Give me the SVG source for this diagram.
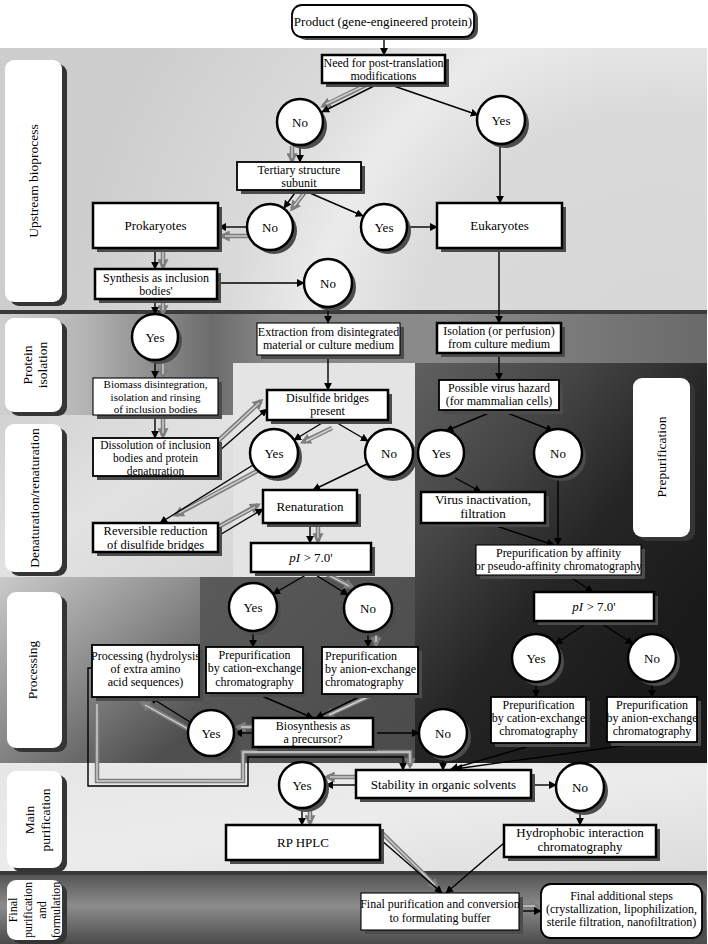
<svg xmlns="http://www.w3.org/2000/svg" width="708" height="944" viewBox="0 0 708 944">
<defs>
<radialGradient id="gUp" gradientUnits="userSpaceOnUse" cx="660" cy="360" r="600">
<stop offset="0" stop-color="#d6d6d6"/><stop offset="0.42" stop-color="#dadada"/><stop offset="0.58" stop-color="#ebebeb"/><stop offset="0.72" stop-color="#dadada"/><stop offset="1" stop-color="#cdcdcd"/>
</radialGradient>
<linearGradient id="gProt" gradientUnits="userSpaceOnUse" x1="0" y1="0" x2="707" y2="0">
<stop offset="0" stop-color="#d0d0d0"/><stop offset="0.12" stop-color="#b4b4b4"/><stop offset="0.3" stop-color="#6c6c6c"/><stop offset="0.38" stop-color="#868686"/><stop offset="0.62" stop-color="#8a8a8a"/><stop offset="1" stop-color="#6a6a6a"/>
</linearGradient>
<linearGradient id="gDen" x1="0" y1="0" x2="1" y2="1">
<stop offset="0" stop-color="#d2d2d2"/><stop offset="0.5" stop-color="#e2e2e2"/><stop offset="1" stop-color="#d6d6d6"/>
</linearGradient>
<linearGradient id="gDark" gradientUnits="userSpaceOnUse" x1="415" y1="363" x2="707" y2="600">
<stop offset="0" stop-color="#606060"/><stop offset="0.35" stop-color="#444"/><stop offset="0.65" stop-color="#252525"/><stop offset="1" stop-color="#1a1a1a"/>
</linearGradient>
<linearGradient id="gProcL" gradientUnits="userSpaceOnUse" x1="0" y1="577" x2="150" y2="765">
<stop offset="0" stop-color="#cacaca"/><stop offset="0.5" stop-color="#8e8e8e"/><stop offset="1" stop-color="#4e4e4e"/>
</linearGradient>
<linearGradient id="gProcC" gradientUnits="userSpaceOnUse" x1="200" y1="577" x2="415" y2="765">
<stop offset="0" stop-color="#5a5a5a"/><stop offset="1" stop-color="#4a4a4a"/>
</linearGradient>
<linearGradient id="gMain" x1="0" y1="0" x2="1" y2="1">
<stop offset="0" stop-color="#e6e6e6"/><stop offset="0.5" stop-color="#ececec"/><stop offset="1" stop-color="#dcdcdc"/>
</linearGradient>
<linearGradient id="gFin" x1="0" y1="0" x2="0" y2="1">
<stop offset="0" stop-color="#555"/><stop offset="0.45" stop-color="#8c8c8c"/><stop offset="1" stop-color="#4a4a4a"/>
</linearGradient>
<marker id="ah" viewBox="0 0 10 10" refX="9" refY="5" markerWidth="8" markerHeight="8" markerUnits="userSpaceOnUse" orient="auto"><path d="M0,0 L10,5 L0,10 z" fill="#000"/></marker>
<marker id="gh" viewBox="0 0 10 10" refX="7" refY="5" markerWidth="11" markerHeight="11" markerUnits="userSpaceOnUse" orient="auto"><path d="M0,0 L10,5 L0,10 z" fill="#7d7d7d"/></marker>
</defs>
<style>
text{font-family:"Liberation Serif","Times New Roman",serif;fill:#000}
.t{font-size:12px;text-anchor:middle}
.tl{font-size:12px;text-anchor:start}
.m{font-size:13px;text-anchor:middle}
.lb{font-size:13.5px;text-anchor:middle}
.bx{fill:#fff;stroke:#000;stroke-width:2.5}
.bm{fill:#fff;stroke:#000;stroke-width:1.8}
.bt{fill:#fff;stroke:#000;stroke-width:1.1}
.sh{fill:#4c4c4c}
.ci{fill:#fff;stroke:#000;stroke-width:2.5}
.lbl{fill:#fff}
.lsh{fill:#353535}
.c{fill:none;stroke:#000;stroke-width:1.4;marker-end:url(#ah)}
.go{fill:none;stroke:#7d7d7d;stroke-width:4.5;marker-end:url(#gh)}
.gi{fill:none;stroke:#d2d2d2;stroke-width:1.4}
</style>

<g id="background">
<rect x="0" y="0" width="708" height="944" fill="#fff"/>
<rect x="0" y="48" width="707" height="262" fill="url(#gUp)"/>
<rect x="0" y="310" width="707" height="4" fill="#3a3a3a"/>
<rect x="0" y="314" width="707" height="49" fill="url(#gProt)"/>
<rect x="0" y="363" width="233" height="52" fill="url(#gProt)"/>
<rect x="0" y="415" width="233" height="162" fill="url(#gDen)"/>
<rect x="233" y="363" width="182" height="214" fill="#e4e4e4"/>
<rect x="415" y="363" width="292" height="402" fill="url(#gDark)"/>
<rect x="0" y="577" width="200" height="188" fill="url(#gProcL)"/>
<rect x="200" y="577" width="215" height="188" fill="url(#gProcC)"/>
<rect x="0" y="763" width="707" height="3" fill="#e8e8e8"/>
<rect x="0" y="766" width="707" height="105" fill="url(#gMain)"/>
<rect x="0" y="871" width="707" height="4" fill="#3a3a3a"/>
<rect x="0" y="875" width="707" height="69" fill="url(#gFin)"/>
</g>

<g id="lane-labels">
<g id="lane-upstream">
<rect class="lsh" x="10" y="64" width="57" height="242" rx="9"/>
<rect class="lbl" x="5" y="60" width="57" height="242" rx="9"/>
<text class="lb" transform="translate(33,181) rotate(-90)" y="4.6">Upstream bioprocess</text>
</g>
<g id="lane-isolation">
<rect class="lsh" x="10" y="322" width="57" height="94" rx="9"/>
<rect class="lbl" x="5" y="318" width="57" height="94" rx="9"/>
<text class="lb" transform="translate(34,365) rotate(-90)"><tspan x="0" y="-2.5">Protein</tspan><tspan x="0" y="12.5">isolation</tspan></text>
</g>
<g id="lane-denaturation">
<rect class="lsh" x="10" y="428" width="57" height="148" rx="9"/>
<rect class="lbl" x="5" y="424" width="57" height="148" rx="9"/>
<text class="lb" transform="translate(34,498) rotate(-90)" y="4.5">Denaturation/renaturation</text>
</g>
<g id="lane-processing">
<rect class="lsh" x="12" y="596" width="55" height="156" rx="9"/>
<rect class="lbl" x="7" y="592" width="55" height="156" rx="9"/>
<text class="lb" transform="translate(34,670) rotate(-90)" y="3">Processing</text>
</g>
<g id="lane-main">
<rect class="lsh" x="12" y="775" width="55" height="97" rx="9"/>
<rect class="lbl" x="7" y="771" width="55" height="97" rx="9"/>
<text class="lb" transform="translate(37,820) rotate(-90)"><tspan x="0" y="-3.5">Main</tspan><tspan x="0" y="13">purification</tspan></text>
</g>
<g id="lane-final">
<rect class="lsh" x="12" y="884" width="55" height="60" rx="9"/>
<rect class="lbl" x="7" y="880" width="55" height="60" rx="9"/>
<text transform="translate(34,910) rotate(-90)" style="font-size:12px;text-anchor:middle"><tspan x="0" y="-16.9">Final</tspan><tspan x="0" y="-2.4">purification</tspan><tspan x="0" y="12.1">and</tspan><tspan x="0" y="25.6">formulation</tspan></text>
</g>
<g id="lane-prepurification">
<rect class="lsh" x="638" y="382" width="57" height="159" rx="9"/>
<rect class="lbl" x="633" y="378" width="57" height="159" rx="9"/>
<text class="lb" transform="translate(661,457) rotate(-90)" y="4.5">Prepurification</text>
</g>
</g>

<g id="connectors">
<g id="gray-path">
<path class="go" d="M372,82 L323,106"/><path class="gi" d="M372,82 L326,104"/>
<path class="go" d="M292,146 V161"/><path class="gi" d="M292,146 V158"/>
<path class="go" d="M305,192 L292,209"/><path class="gi" d="M305,192 L294,206"/>
<path class="go" d="M250,236 H222"/><path class="gi" d="M250,236 H225"/>
<path class="go" d="M163,249 V267"/><path class="gi" d="M163,249 V264"/>
<path class="go" d="M163,300 V313"/><path class="gi" d="M163,300 V310"/>
<path class="go" d="M163,361 V377"/><path class="gi" d="M163,361 V374"/>
<path class="go" d="M163,415 V436"/><path class="gi" d="M163,415 V433"/>
<path class="go" d="M218,441 L261,401"/><path class="gi" d="M218,441 L259,403"/>
<path class="go" d="M332,428 L303,442"/><path class="gi" d="M332,428 L306,441"/>
<path class="go" d="M259,470 L176,515"/><path class="gi" d="M259,470 L179,513"/>
<path class="go" d="M218,527 L258,505"/><path class="gi" d="M218,527 L255,507"/>
<path class="go" d="M318,524 V541"/><path class="gi" d="M318,524 V538"/>
<path class="go" d="M317,569 L352,587"/><path class="gi" d="M317,569 L349,586"/>
<path class="go" d="M376,633 V645"/><path class="gi" d="M376,633 V642"/>
<path class="go" d="M372,695 L326,716"/><path class="gi" d="M372,695 L329,715"/>
<path class="go" d="M252,727 H238"/><path class="gi" d="M252,727 H241"/>
<path class="go" d="M190,730 L142,703"/><path class="gi" d="M190,730 L145,705"/>
<path class="go" d="M97,704 V781 H243 V752 H410 V766"/><path class="gi" d="M97,704 V781 H243 V752 H410 V763"/>
<path class="go" d="M355,777 H327"/><path class="gi" d="M355,777 H330"/>
<path class="go" d="M310,810 V823"/><path class="gi" d="M310,810 V820"/>
<path class="go" d="M381,832 L437,887"/><path class="gi" d="M381,832 L435,885"/>
<path class="go" d="M520,906 H538"/><path class="gi" d="M520,906 H535"/>
</g>
<g id="black-path">
<path class="c" d="M384,38 V55"/>
<path class="c" d="M378,84 L322,112"/>
<path class="c" d="M388,84 L478,115"/>
<path class="c" d="M300,145 V162"/>
<path class="c" d="M297,190 L284,208"/>
<path class="c" d="M303,190 L363,216"/>
<path class="c" d="M247,227 H219"/>
<path class="c" d="M408,227 H437"/>
<path class="c" d="M500,144 V203"/>
<path class="c" d="M155,248 V269"/>
<path class="c" d="M217,283 H304"/>
<path class="c" d="M155,299 V314"/>
<path class="c" d="M328,307 V323"/>
<path class="c" d="M499,248 V323"/>
<path class="c" d="M155,360 V378"/>
<path class="c" d="M328,355 V390"/>
<path class="c" d="M155,415 V438"/>
<path class="c" d="M499,353 V380"/>
<path class="c" d="M218,452 L267,409"/>
<path class="c" d="M327,420 L294,440"/>
<path class="c" d="M332,420 L368,441"/>
<path class="c" d="M253,465 L160,523"/>
<path class="c" d="M218,536 L263,509"/>
<path class="c" d="M367,464 L313,490"/>
<path class="c" d="M310,523 V543"/>
<path class="c" d="M496,410 L446,431"/>
<path class="c" d="M500,410 L553,431"/>
<path class="c" d="M450,475 L481,492"/>
<path class="c" d="M558,477 V545"/>
<path class="c" d="M487,523 L554,545"/>
<path class="c" d="M567,575 L593,592"/>
<path class="c" d="M590,621 L555,644"/>
<path class="c" d="M598,621 L633,644"/>
<path class="c" d="M536,682 V697"/>
<path class="c" d="M652,682 V697"/>
<path class="c" d="M311,572 L273,594"/>
<path class="c" d="M311,572 L348,595"/>
<path class="c" d="M253,631 V647"/>
<path class="c" d="M368,632 V647"/>
<path class="c" d="M255,693 L313,718"/>
<path class="c" d="M365,694 L316,718"/>
<path class="c" d="M253,733 H235"/>
<path class="c" d="M373,733 H419"/>
<path class="c" d="M190,722 L150,697"/>
<path class="c" d="M92,668 H88 V786 H248 V757 H403 V770"/>
<path class="c" d="M443,757 V770"/>
<path class="c" d="M540,743 L451,769"/>
<path class="c" d="M650,742 L455,769"/>
<path class="c" d="M356,785 H326"/>
<path class="c" d="M531,785 H556"/>
<path class="c" d="M302,808 V825"/>
<path class="c" d="M580,811 V825"/>
<path class="c" d="M381,840 L442,893"/>
<path class="c" d="M504,843 L446,893"/>
<path class="c" d="M519,911 H541"/>
</g>
</g>

<g id="n-product"><rect class="sh" x="296" y="8" width="182" height="32" rx="10"/><rect class="bm" x="292" y="5" width="182" height="32" rx="10"/><text class="m" x="383" y="25.5">Product (gene-engineered protein)</text></g>
<g id="n-need"><rect class="sh" x="326" y="59" width="123" height="28"/><rect class="bx" x="322" y="55" width="123" height="28"/><text class="t" x="383.5" y="66.5">Need for post-translation</text><text class="t" x="383.5" y="79.8">modifications</text></g>
<g id="n-no1"><circle class="sh" cx="304" cy="126" r="23"/><circle class="ci" cx="300" cy="122" r="23"/><text class="m" x="300" y="126.5">No</text></g>
<g id="n-yes1"><circle class="sh" cx="505" cy="124" r="24"/><circle class="ci" cx="501" cy="120" r="24"/><text class="m" x="501" y="124.5">Yes</text></g>
<g id="n-tertiary"><rect class="sh" x="241" y="166" width="124" height="28"/><rect class="bm" x="237" y="162" width="124" height="28"/><text class="t" x="299" y="174">Tertiary structure</text><text class="t" x="299" y="187.3">subunit</text></g>
<g id="n-no2"><circle class="sh" cx="274" cy="231" r="23"/><circle class="ci" cx="270" cy="227" r="23"/><text class="m" x="270" y="231.5">No</text></g>
<g id="n-yes2"><circle class="sh" cx="388" cy="231" r="23"/><circle class="ci" cx="384" cy="227" r="23"/><text class="m" x="384" y="231.5">Yes</text></g>
<g id="n-prokaryotes"><rect class="sh" x="97" y="207" width="125" height="45"/><rect class="bx" x="93" y="203" width="125" height="45"/><text class="m" x="155.5" y="230">Prokaryotes</text></g>
<g id="n-eukaryotes"><rect class="sh" x="441" y="207" width="125" height="45"/><rect class="bx" x="437" y="203" width="125" height="45"/><text class="m" x="499.5" y="230">Eukaryotes</text></g>
<g id="n-synthesis"><rect class="sh" x="99" y="273" width="122" height="30"/><rect class="bx" x="95" y="269" width="122" height="30"/><text class="t" x="156" y="281.5">Synthesis as inclusion</text><text class="t" x="156" y="294.8">bodies'</text></g>
<g id="n-no3"><circle class="sh" cx="332" cy="287" r="24"/><circle class="ci" cx="328" cy="283" r="24"/><text class="m" x="328" y="287.5">No</text></g>
<g id="n-yes3"><circle class="sh" cx="159" cy="341" r="23"/><circle class="ci" cx="155" cy="337" r="23"/><text class="m" x="155" y="341.5">Yes</text></g>
<g id="n-extraction"><rect class="sh" x="261" y="327" width="143" height="32"/><rect class="bt" x="257" y="323" width="143" height="32"/><text class="t" x="328.5" y="336">Extraction from disintegrated</text><text class="t" x="328.5" y="349.3">material or culture medium</text></g>
<g id="n-isolation"><rect class="sh" x="441" y="327" width="124" height="30"/><rect class="bx" x="437" y="323" width="124" height="30"/><text class="t" x="499" y="335">Isolation (or perfusion)</text><text class="t" x="499" y="348.3">from culture medium</text></g>
<g id="n-biomass"><rect class="sh" x="97" y="382" width="125" height="37"/><rect class="bt" x="93" y="378" width="125" height="37"/><text x="155.5" y="388.3" style="font-size:11px;text-anchor:middle">Biomass disintegration,</text><text x="155.5" y="400.6" style="font-size:11px;text-anchor:middle">isolation and rinsing</text><text x="155.5" y="412.9" style="font-size:11px;text-anchor:middle">of inclusion bodies</text></g>
<g id="n-disulfide"><rect class="sh" x="271" y="394" width="121" height="30"/><rect class="bx" x="267" y="390" width="121" height="30"/><text class="t" x="327.5" y="402">Disulfide bridges</text><text class="t" x="327.5" y="415.3">present</text></g>
<g id="n-dissolution"><rect class="sh" x="97" y="442" width="125" height="38"/><rect class="bm" x="93" y="438" width="125" height="38"/><text x="155.5" y="449.3" style="font-size:11.5px;text-anchor:middle">Dissolution of inclusion</text><text x="155.5" y="462.1" style="font-size:11.5px;text-anchor:middle">bodies and protein</text><text x="155.5" y="474.9" style="font-size:11.5px;text-anchor:middle">denaturation</text></g>
<g id="n-yes4"><circle class="sh" cx="278" cy="457" r="24"/><circle class="ci" cx="274" cy="453" r="24"/><text class="m" x="274" y="457.5">Yes</text></g>
<g id="n-no4"><circle class="sh" cx="393" cy="457" r="24"/><circle class="ci" cx="389" cy="453" r="24"/><text class="m" x="389" y="457.5">No</text></g>
<g id="n-renaturation"><rect class="sh" x="267" y="494" width="94" height="33"/><rect class="bx" x="263" y="490" width="94" height="33"/><text class="m" x="310" y="511">Renaturation</text></g>
<g id="n-reversible"><rect class="sh" x="97" y="527" width="125" height="29"/><rect class="bx" x="93" y="523" width="125" height="29"/><text x="155.5" y="534.8" style="font-size:12.5px;text-anchor:middle">Reversible reduction</text><text x="155.5" y="548.7" style="font-size:12.5px;text-anchor:middle">of disulfide bridges</text></g>
<g id="n-pi1"><rect class="sh" x="255" y="547" width="120" height="29"/><rect class="bx" x="251" y="543" width="120" height="29"/><text class="m" x="311" y="562"><tspan font-style="italic">pI</tspan> &gt; 7.0'</text></g>
<g id="n-virus"><rect class="sh" x="443" y="384" width="120" height="30"/><rect class="bm" x="439" y="380" width="120" height="30"/><text class="t" x="499" y="392">Possible virus hazard</text><text class="t" x="499" y="405.3">(for mammalian cells)</text></g>
<g id="n-yes5"><circle class="sh" cx="445" cy="457" r="23"/><circle class="ci" cx="441" cy="453" r="23"/><text class="m" x="441" y="457.5">Yes</text></g>
<g id="n-no5"><circle class="sh" cx="562" cy="457" r="24"/><circle class="ci" cx="558" cy="453" r="24"/><text class="m" x="558" y="457.5">No</text></g>
<g id="n-inactivation"><rect class="sh" x="425" y="496" width="124" height="31"/><rect class="bx" x="421" y="492" width="124" height="31"/><text class="m" x="483" y="504">Virus inactivation,</text><text class="m" x="483" y="518.4">filtration</text></g>
<g id="n-affinity"><rect class="sh" x="480" y="549" width="165" height="30"/><rect class="bt" x="476" y="545" width="165" height="30"/><text class="t" x="558.5" y="557">Prepurification by affinity</text><text class="t" x="558.5" y="570.3">or pseudo-affinity chromatography</text></g>
<g id="n-pi2"><rect class="sh" x="538" y="596" width="120" height="29"/><rect class="bx" x="534" y="592" width="120" height="29"/><text class="m" x="594" y="611"><tspan font-style="italic">pI</tspan> &gt; 7.0'</text></g>
<g id="n-yes6"><circle class="sh" cx="540" cy="662" r="24"/><circle class="ci" cx="536" cy="658" r="24"/><text class="m" x="536" y="662.5">Yes</text></g>
<g id="n-no6"><circle class="sh" cx="656" cy="662" r="24"/><circle class="ci" cx="652" cy="658" r="24"/><text class="m" x="652" y="662.5">No</text></g>
<g id="n-cation2"><rect class="sh" x="495" y="701" width="95" height="46"/><rect class="bm" x="491" y="697" width="95" height="46"/><text class="t" x="538.5" y="708.5">Prepurification</text><text class="t" x="538.5" y="721.8">by cation-exchange</text><text class="t" x="538.5" y="735.1">chromatography</text></g>
<g id="n-anion2"><rect class="sh" x="611" y="701" width="90" height="45"/><rect class="bm" x="607" y="697" width="90" height="45"/><text class="t" x="652" y="708.5">Prepurification</text><text class="t" x="652" y="721.8">by anion-exchange</text><text class="t" x="652" y="735.1">chromatography</text></g>
<g id="n-yes7"><circle class="sh" cx="257" cy="611" r="24"/><circle class="ci" cx="253" cy="607" r="24"/><text class="m" x="253" y="611.5">Yes</text></g>
<g id="n-no7"><circle class="sh" cx="372" cy="612" r="24"/><circle class="ci" cx="368" cy="608" r="24"/><text class="m" x="368" y="612.5">No</text></g>
<g id="n-cation1"><rect class="sh" x="210" y="651" width="97" height="46"/><rect class="bm" x="206" y="647" width="97" height="46"/><text class="t" x="254.5" y="659">Prepurification</text><text class="t" x="254.5" y="672.3">by cation-exchange</text><text class="t" x="254.5" y="685.6">chromatography</text></g>
<g id="n-anion1"><rect class="sh" x="326" y="651" width="96" height="47"/><rect class="bm" x="322" y="647" width="96" height="47"/><text class="tl" x="325" y="659.5">Prepurification</text><text class="tl" x="325" y="672.8">by anion-exchange</text><text class="tl" x="325" y="686.1">chromatography</text></g>
<g id="n-processing"><rect class="sh" x="96" y="649" width="107" height="52"/><rect class="bm" x="92" y="645" width="107" height="52"/><text class="t" x="145.5" y="659.5">Processing (hydrolysis</text><text class="t" x="145.5" y="672.8">of extra amino</text><text class="t" x="145.5" y="686.1">acid sequences)</text></g>
<g id="n-biosynthesis"><rect class="sh" x="257" y="722" width="120" height="29"/><rect class="bx" x="253" y="718" width="120" height="29"/><text class="t" x="313" y="729.5">Biosynthesis as</text><text class="t" x="313" y="742.8">a precursor?</text></g>
<g id="n-yes8"><circle class="sh" cx="215" cy="737" r="23"/><circle class="ci" cx="211" cy="733" r="23"/><text class="m" x="211" y="737.5">Yes</text></g>
<g id="n-no8"><circle class="sh" cx="447" cy="737" r="24"/><circle class="ci" cx="443" cy="733" r="24"/><text class="m" x="443" y="737.5">No</text></g>
<g id="n-stability"><rect class="sh" x="360" y="774" width="175" height="28"/><rect class="bx" x="356" y="770" width="175" height="28"/><text class="m" x="443.5" y="788.5">Stability in organic solvents</text></g>
<g id="n-yes9"><circle class="sh" cx="306" cy="789" r="23"/><circle class="ci" cx="302" cy="785" r="23"/><text class="m" x="302" y="789.5">Yes</text></g>
<g id="n-no9"><circle class="sh" cx="584" cy="791" r="24"/><circle class="ci" cx="580" cy="787" r="24"/><text class="m" x="580" y="791.5">No</text></g>
<g id="n-rphplc"><rect class="sh" x="230" y="829" width="154" height="35"/><rect class="bx" x="226" y="825" width="154" height="35"/><text class="m" x="303" y="847">RP HPLC</text></g>
<g id="n-hydrophobic"><rect class="sh" x="508" y="829" width="152" height="32"/><rect class="bx" x="504" y="825" width="152" height="32"/><text class="m" x="580" y="837">Hydrophobic interaction</text><text class="m" x="580" y="851.4">chromatography</text></g>
<g id="n-finalpur"><rect class="sh" x="365" y="897" width="158" height="37"/><rect class="bt" x="361" y="893" width="158" height="37"/><text class="t" x="440" y="908">Final purification and conversion</text><text class="t" x="440" y="921.5">to formulating buffer</text></g>
<g id="n-finaladd"><rect class="sh" x="545" y="888" width="161" height="54" rx="10"/><rect class="bm" x="541" y="884" width="161" height="54" rx="10"/><text class="t" x="621.5" y="899.5">Final additional steps</text><text class="t" x="621.5" y="912.8">(crystallization, lipophilization,</text><text class="t" x="621.5" y="926.1">sterile filtration, nanofiltration)</text></g>
</svg>
